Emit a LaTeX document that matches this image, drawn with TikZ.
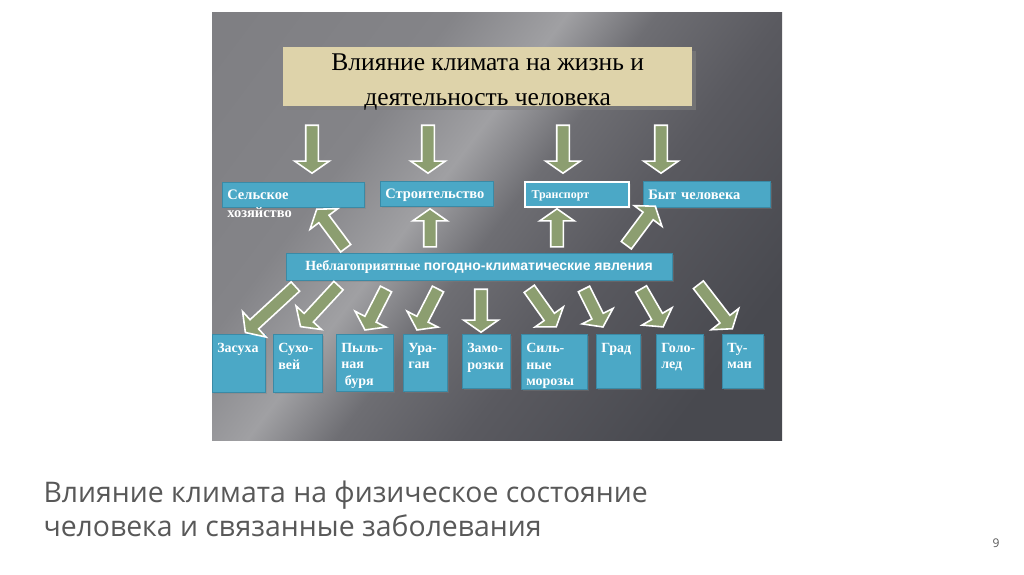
\documentclass[tikz,border=0pt]{standalone}
\usepackage{fontspec}
\setmainfont{Liberation Serif}
\newfontfamily\capfont{Open Sans}
\newfontfamily\arialfont{Liberation Sans}
\usetikzlibrary{shapes.arrows,shadows,calc}

\definecolor{boxblue}{RGB}{75,168,198}
\definecolor{boxedge}{RGB}{58,138,166}
\definecolor{beige}{RGB}{222,211,170}
\definecolor{arrgreen}{RGB}{140,158,112}
\definecolor{capgray}{RGB}{88,88,88}
\definecolor{pA}{RGB}{122,122,126}
\definecolor{pB}{RGB}{132,132,136}
\definecolor{pC}{RGB}{160,160,163}
\definecolor{pD}{RGB}{110,110,115}
\definecolor{pE}{RGB}{90,90,96}
\definecolor{pF}{RGB}{72,73,79}

\pgfdeclarehorizontalshading{panelsh}{100bp}{color(0bp)=(pA); color(34bp)=(pB); color(43bp)=(pC); color(50bp)=(pD); color(60bp)=(pE); color(76bp)=(pF); color(100bp)=(pF)}

\newcommand\bx[4]{\parbox[c][#2][t]{#1}{\vspace*{#3}\raggedright\leftskip=5pt\relax #4}}

\newcommand\blockarrow[3]{\path let \p1=(#2), \p2=(#3),
  \n1={atan2(\y2-\y1,\x2-\x1)}, \n2={veclen(\x2-\x1,\y2-\y1)} in
  node[barrow, minimum height=\n2, rotate=\n1] (#1) at ($(\p1)!0.5!(\p2)$) {};}

\begin{document}
\begin{tikzpicture}[x=1pt,y=-1pt,
  barrow/.style={single arrow, draw=white, line width=1.6pt, fill=arrgreen,
    inner xsep=0pt, inner ysep=5.5pt, single arrow head extend=11pt,
    single arrow tip angle=110},
  bbox/.style={draw=boxedge, line width=0.6pt, fill=boxblue, inner sep=0pt,
    text=white, font=\bfseries, anchor=north west,
    drop shadow={shadow xshift=1.5pt, shadow yshift=-1.5pt, opacity=0.35}},
  rowbox/.style={bbox, inner xsep=5pt, align=left, text height=10pt, text depth=0.5pt,
    font=\bfseries\fontsize{14.5}{18}\selectfont},
  smallbox/.style={bbox, font=\bfseries\fontsize{14}{16.5}\selectfont}]
\useasboundingbox (0,0) rectangle (1024,574);
\fill[white] (0,0) rectangle (1024,574);
% panel
\shade[shading=panelsh, shading angle=-37] (212,12) rectangle (782,440);

% title
\node[fill=beige, inner sep=0pt, anchor=north west, font=\fontsize{25.5}{35}\selectfont,
  drop shadow={shadow xshift=4pt, shadow yshift=-4pt, opacity=0.6}]
  (title) at (283,47) {\parbox[c][59pt][t]{409pt}{\vspace*{6.5pt}\centering Влияние климата на жизнь и\\деятельность человека}};

% row 1
\node[bbox, font=\bfseries\fontsize{14.5}{18}\selectfont] (agr) at (222,182)
  {\bx{142pt}{25pt}{8pt}{Сельское\\хозяйство}};
\node[rowbox, text width=103pt, minimum height=25pt] (build) at (380,181) {Строительство};
\node[rowbox, draw=white, line width=2pt, text width=91pt, inner xsep=6.5pt, minimum height=25pt,
  text height=8.5pt, text depth=0.5pt,
  font=\bfseries\fontsize{12}{15}\selectfont] (trans) at (524,181) {Транспорт};
\node[rowbox, text width=117pt, minimum height=26pt] (life) at (643,181) {Быт человека};

% middle bar
\node[bbox, anchor=center, minimum width=386pt, minimum height=27pt,
  font=\bfseries\fontsize{14}{16}\selectfont] (bar) at (479,266.5)
  {Неблагоприятные {\arialfont погодно-климатические явления}};

% bottom boxes
\node[smallbox] (b1) at (212,334) {\bx{53pt}{58pt}{9pt}{Засуха}};
\node[smallbox] (b2) at (273,334) {\bx{49pt}{58pt}{9pt}{Сухо-\\вей}};
\node[smallbox] (b3) at (336,334) {\bx{57pt}{57pt}{9pt}{Пыль-\\ная\\\hspace*{0.25em}буря}};
\node[smallbox] (b4) at (403,334) {\bx{44pt}{57pt}{9pt}{Ура-\\ган}};
\node[smallbox] (b5) at (462,334) {\bx{48pt}{54pt}{9pt}{Замо-\\розки}};
\node[smallbox] (b6) at (521,334) {\bx{66pt}{55pt}{9pt}{Силь-\\ные\\морозы}};
\node[smallbox] (b7) at (596,334) {\bx{44pt}{54pt}{9pt}{Град}};
\node[smallbox] (b8) at (656,334) {\bx{47pt}{54pt}{9pt}{Голо-\\лед}};
\node[smallbox] (b9) at (722,334) {\bx{41pt}{54pt}{9pt}{Ту-\\ман}};

% arrow end points
\coordinate (t1a) at (312,123); \coordinate (t1b) at (312,171);
\coordinate (t2a) at (428,123); \coordinate (t2b) at (428,171);
\coordinate (t3a) at (563,123); \coordinate (t3b) at (563,171);
\coordinate (t4a) at (661,123); \coordinate (t4b) at (661,171);
\coordinate (u1a) at (347,250); \coordinate (u1b) at (318,211);
\coordinate (u2a) at (430,249); \coordinate (u2b) at (430,211);
\coordinate (u3a) at (557,249); \coordinate (u3b) at (557,211);
\coordinate (u4a) at (625,247); \coordinate (u4b) at (654,208);
\coordinate (d1a) at (297,285); \coordinate (d1b) at (247,331);
\coordinate (d2a) at (340,284); \coordinate (d2b) at (302,325);
\coordinate (d3a) at (387,287); \coordinate (d3b) at (366,328);
\coordinate (d4a) at (439,287); \coordinate (d4b) at (418,328);
\coordinate (d5a) at (481,287); \coordinate (d5b) at (481,330);
\coordinate (d6a) at (528,287); \coordinate (d6b) at (555,325);
\coordinate (d7a) at (583,287); \coordinate (d7b) at (602,325);
\coordinate (d8a) at (640,287); \coordinate (d8b) at (662,325);
\coordinate (d9a) at (697,283); \coordinate (d9b) at (731,327);

\foreach \k in {t1,t2,t3,t4,u1,u2,u3,u4,d1,d2,d3,d4,d5,d6,d7,d8,d9}{
  \blockarrow{\k arr}{\k a}{\k b}
}

% caption
\node[anchor=west, align=left, text=capgray,
  font=\capfont\fontsize{28.4}{34}\selectfont] (cap) at (40,509)
  {Влияние климата на физическое состояние\\человека и связанные заболевания};
\node[text=capgray, font=\capfont\fontsize{12}{14}\selectfont] (pg) at (996,543) {9};
\end{tikzpicture}
\end{document}
